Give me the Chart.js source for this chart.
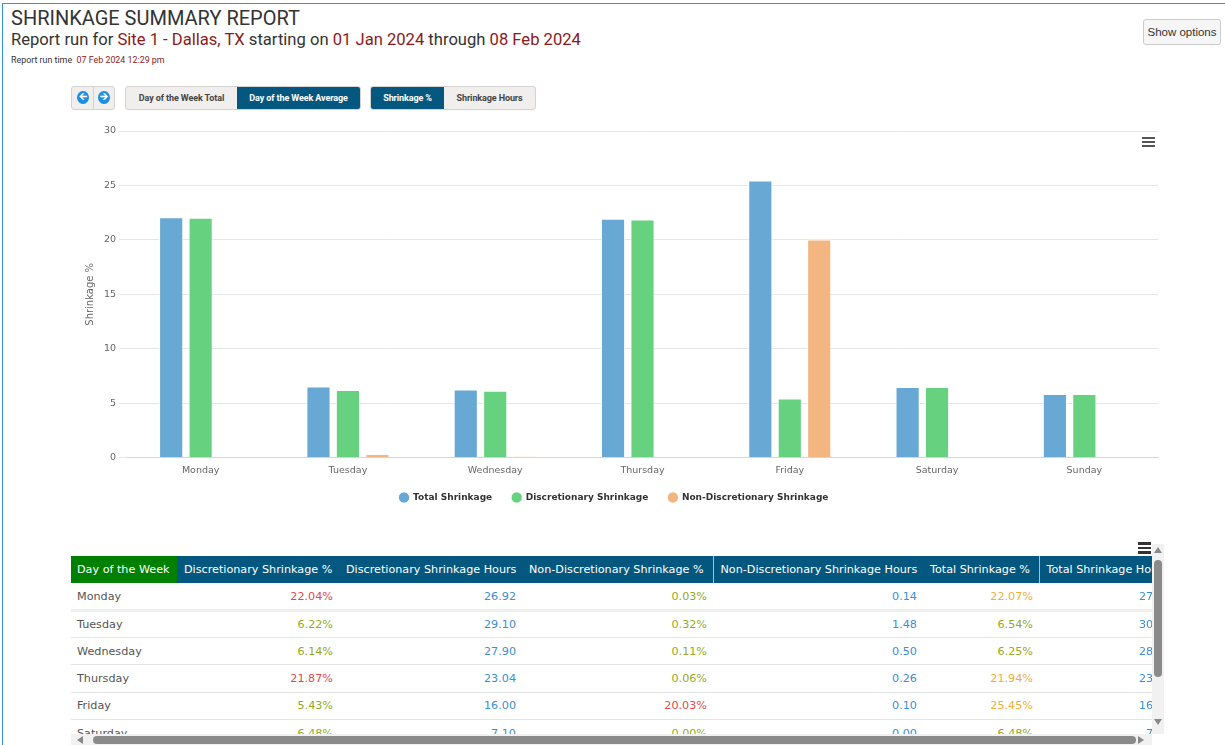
<!DOCTYPE html>
<html>
<head>
<meta charset="utf-8">
<script src="https://cdn.jsdelivr.net/npm/chart.js@4.4.1/dist/chart.umd.min.js"></script>
<style>
  html, body { margin: 0; padding: 0; background: #fff; }
  body { width: 1225px; height: 745px; position: relative; overflow: hidden; font-family: Roboto, Arial, sans-serif; }
  .frame { position: absolute; left: 2px; top: 3px; width: 1240px; height: 760px; border: 1px solid #2f97d8; }
  .title { position: absolute; left: 11px; top: 6px; font-size: 20px; color: #333; }
  .sub { position: absolute; left: 11px; top: 30px; font-size: 16.6px; color: #333; }
  .red { color: #8b1a1a; }
  .runtime { position: absolute; left: 11px; top: 55px; font-size: 8.9px; color: #333; }
  .showopt { position: absolute; left: 1143px; top: 19px; width: 78px; height: 26px; box-sizing: border-box;
    border: 1px solid #ccc; border-radius: 3px; background: #f6f6f6; font-family: Arial, sans-serif;
    font-size: 11.5px; color: #333; line-height: 24px; text-align: center; }
  .btngrp { position: absolute; top: 86px; height: 24px; display: flex; border: 1px solid #d6d2d2; border-radius: 3px;
    box-sizing: border-box; overflow: hidden; background: #f1eeee; }
  .btngrp div { font-size: 9px; font-weight: bold; color: #444; line-height: 22px; text-align: center; letter-spacing: -0.1px; }
  .btngrp div.on { background: #04587f; color: #fff; }
  .btngrp .arrow { width: 13px; height: 13px; border-radius: 50%; background: #1c8fe2; margin: 4px 4px 0 5px; color: #fff;
    font-size: 10px; line-height: 12px; letter-spacing: 0; }
  .menu { position: absolute; width: 13px; }
  .menu i { display: block; height: 2px; background: #555; margin-bottom: 2px; }
  #chartBox { position: absolute; left: 70px; top: 116px; width: 1100px; height: 402px; }
  .tblwrap { position: absolute; left: 71px; top: 556px; width: 1081px; height: 178px; overflow: hidden; }
  table { border-collapse: collapse; table-layout: fixed; width: 1138px; font-family: "DejaVu Sans", Verdana, sans-serif; font-size: 11.2px; white-space: nowrap; }
  th, td { box-sizing: border-box; overflow: hidden; }
  th { background: #04587f; color: #fff; font-weight: normal; height: 27px; padding: 0 6px 0 7px; text-align: left; }
  th.first { background: #008000; padding-left: 6px; }
  th.sep { border-left: 1px solid #9fc3d6; }
  td { height: 27.3px; padding: 0 6px 0 7px; color: #555; border-bottom: 1px solid #e4e4e4; text-align: right; }
  td.day { text-align: left; padding-left: 6px; }
  td.last { padding-right: 38px; }
  tr.thick td { border-bottom: 3px solid #efefef; padding-top: 2px; }
  .hi { color: #de4a4f; } .ok { color: #96a924; } .warn { color: #f0ae3c; } .hr { color: #3d8ed6; }
  .hscroll { position: absolute; left: 71px; top: 734px; width: 1081px; height: 11px; background: #f1f1f1; }
  .hthumb { position: absolute; left: 22px; top: 2px; width: 1043px; height: 8px; border-radius: 4px; background: #8a8a8a; }
  .vscroll { position: absolute; left: 1152px; top: 544px; width: 12px; height: 190px; background: #f1f1f1; }
  .vthumb { position: absolute; left: 2px; top: 16px; width: 8px; height: 117px; border-radius: 4px; background: #8a8a8a; }
  .tri { position: absolute; width: 0; height: 0; }
</style>
</head>
<body>
<div class="frame"></div>
<div class="title">SHRINKAGE SUMMARY REPORT</div>
<div class="sub">Report run for <span class="red">Site 1 - Dallas, TX</span> starting on <span class="red">01 Jan 2024</span> through <span class="red">08 Feb 2024</span></div>
<div class="runtime">Report run time&nbsp; <span class="red">07 Feb 2024 12:29 pm</span></div>
<div class="showopt">Show options</div>

<div class="btngrp" style="left:71px;width:44px;">
  <div class="arrow">&#129128;</div><div style="width:1px;background:#d6d2d2;"></div><div class="arrow">&#129130;</div>
</div>
<div class="btngrp" style="left:125px;width:236px;">
  <div style="width:112px;">Day of the Week Total</div>
  <div class="on" style="width:124px;">Day of the Week Average</div>
</div>
<div class="btngrp" style="left:370px;width:166px;">
  <div class="on" style="width:74px;">Shrinkage %</div>
  <div style="width:92px;">Shrinkage Hours</div>
</div>

<div id="chartBox"><canvas id="chart"></canvas></div>
<div class="menu" style="left:1142px;top:137px;"><i></i><i></i><i></i></div>

<div class="menu" style="left:1138px;top:542px;"><i style="height:2.5px;background:#333"></i><i style="height:2.5px;background:#333"></i><i style="height:2.5px;background:#333"></i></div>
<div class="tblwrap"><table id="tbl"></table></div>
<div class="vscroll"><div class="vthumb"></div>
  <div class="tri" style="left:2px;top:3px;border-left:4px solid transparent;border-right:4px solid transparent;border-bottom:6px solid #888;"></div>
  <div class="tri" style="left:2px;top:175px;border-left:4px solid transparent;border-right:4px solid transparent;border-top:6px solid #888;"></div>
</div>
<div class="hscroll"><div class="hthumb"></div>
  <div class="tri" style="left:6px;top:2px;border-top:4px solid transparent;border-bottom:4px solid transparent;border-right:6px solid #888;"></div>
  <div class="tri" style="left:1067px;top:2px;border-top:4px solid transparent;border-bottom:4px solid transparent;border-left:6px solid #888;"></div>
</div>

<script>
const days = ['Monday', 'Tuesday', 'Wednesday', 'Thursday', 'Friday', 'Saturday', 'Sunday'];
const totalPct = [22.07, 6.54, 6.25, 21.94, 25.45, 6.48, 5.85];
const discPct = [22.04, 6.22, 6.14, 21.87, 5.43, 6.48, 5.85];
const nonDiscPct = [0.03, 0.32, 0.11, 0.06, 20.03, 0.00, 0.00];
const discHours = [26.92, 29.10, 27.90, 23.04, 16.00, 7.10, 6.40];
const nonDiscHours = [0.14, 1.48, 0.50, 0.26, 0.10, 0.00, 0.00];
const totalHours = [27.06, 30.58, 28.40, 23.30, 16.10, 7.10, 6.40];
const yTicks = [0, 5, 10, 15, 20, 25, 30];

// colour class for a % cell
function pctClass(v, isTotal) {
  if (v >= 20) return isTotal ? 'warn' : 'hi';
  return 'ok';
}

// table
let html = '<tr><th class="first" style="width:106px">Day of the Week</th>' +
  '<th style="width:162px">Discretionary Shrinkage %</th>' +
  '<th style="width:183px">Discretionary Shrinkage Hours</th>' +
  '<th style="width:191px">Non-Discretionary Shrinkage %</th>' +
  '<th class="sep" style="width:210px">Non-Discretionary Shrinkage Hours</th>' +
  '<th style="width:116px">Total Shrinkage %</th>' +
  '<th class="sep" style="width:170px">Total Shrinkage Hours</th></tr>';
days.forEach((d, i) => {
  html += '<tr' + (i === 0 ? ' class="thick"' : '') + '>' +
    '<td class="day">' + d + '</td>' +
    '<td class="' + pctClass(discPct[i]) + '">' + discPct[i].toFixed(2) + '%</td>' +
    '<td class="hr">' + discHours[i].toFixed(2) + '</td>' +
    '<td class="' + pctClass(nonDiscPct[i]) + '">' + nonDiscPct[i].toFixed(2) + '%</td>' +
    '<td class="hr">' + nonDiscHours[i].toFixed(2) + '</td>' +
    '<td class="' + pctClass(totalPct[i], true) + '">' + totalPct[i].toFixed(2) + '%</td>' +
    '<td class="hr last">' + totalHours[i].toFixed(2) + '</td></tr>';
});
document.getElementById('tbl').innerHTML = html;

const font = "'DejaVu Sans', Verdana, sans-serif";
const barBase = { borderColor: '#ffffff', borderWidth: 1, categoryPercentage: 0.6, barPercentage: 0.82 };

// pull the legend a bit closer to the axis labels
const legendShift = {
  id: 'legendShift',
  afterLayout(chart) {
    chart.legend.top -= 2;
    chart.legend.bottom -= 2;
  },
};

new Chart(document.getElementById('chart'), {
  type: 'bar',
  data: {
    labels: days,
    datasets: [
      { ...barBase, label: 'Total Shrinkage', data: totalPct, backgroundColor: '#68a8d4' },
      { ...barBase, label: 'Discretionary Shrinkage', data: discPct, backgroundColor: '#66d27f' },
      { ...barBase, label: 'Non-Discretionary Shrinkage', data: nonDiscPct, backgroundColor: '#f4b681' },
    ],
  },
  plugins: [legendShift],
  options: {
    responsive: true,
    maintainAspectRatio: false,
    animation: false,
    layout: { padding: { top: 15, right: 12, bottom: 4, left: 0 } },
    plugins: {
      legend: {
        position: 'bottom',
        labels: {
          usePointStyle: true, pointStyle: 'circle', boxWidth: 9, boxHeight: 8, padding: 20,
          color: '#333', font: { family: font, size: 9, weight: 'bold' },
        },
      },
      tooltip: { enabled: false },
    },
    scales: {
      x: {
        grid: { display: false },
        border: { color: '#ccd6eb' },
        ticks: { color: '#666', font: { family: font, size: 9.5 }, padding: -1 },
      },
      y: {
        min: 0, max: 30,
        afterBuildTicks: (s) => { s.ticks = yTicks.map(v => ({ value: v })); },
        afterFit: (s) => { s.width = 57; },
        grid: { color: '#e6e6e6' },
        border: { display: false },
        ticks: { color: '#666', font: { family: font, size: 9.5 }, padding: 3 },
        title: { display: true, text: 'Shrinkage %', color: '#666', font: { family: font, size: 10 }, padding: { top: 14, bottom: 0 } },
      },
    },
  },
});
</script>
</body>
</html>
